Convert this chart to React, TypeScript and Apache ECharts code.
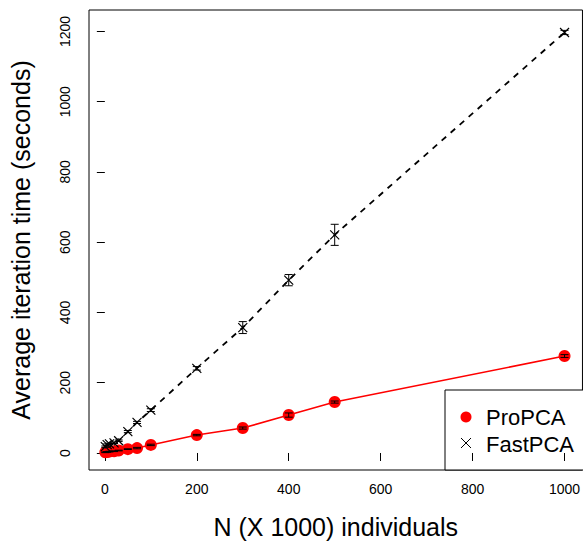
import React, { useEffect, useRef } from "react";
import * as echarts from "echarts";

// Sample sizes (thousands of individuals)
const nValues = [1, 5, 10, 20, 30, 50, 70, 100, 200, 300, 400, 500, 1000];
// Average iteration time (seconds) and error half-widths
const proPCA = [2, 3, 4, 5, 7, 11, 14, 23, 51, 71, 108, 145, 276];
const proErr = [1, 1, 1, 1, 1, 1, 2, 2, 2, 3, 6, 3, 4];
const fastPCA = [18, 24, 26, 29, 35, 61, 87, 122, 241, 357, 492, 621, 1197];
const fastErr = [2, 2, 2, 2, 2, 3, 3, 4, 5, 17, 16, 30, 6];

const xTicks = [0, 200, 400, 600, 800, 1000];
const yTicks = [0, 200, 400, 600, 800, 1000, 1200];

const FONT = '"Liberation Sans", Arial, Helvetica, sans-serif';

const errorBars = (vals: number[], errs: number[]) =>
  nValues.map((n, i) => [n, vals[i] - errs[i], vals[i] + errs[i]]);

const renderErrorBar = (params: any, api: any) => {
  const x = api.value(0);
  const lo = api.coord([x, api.value(1)]);
  const hi = api.coord([x, api.value(2)]);
  const cap = 4;
  const style = { stroke: "#000", lineWidth: 1 };
  return {
    type: "group",
    children: [
      { type: "line", shape: { x1: lo[0], y1: lo[1], x2: hi[0], y2: hi[1] }, style },
      { type: "line", shape: { x1: lo[0] - cap, y1: lo[1], x2: lo[0] + cap, y2: lo[1] }, style },
      { type: "line", shape: { x1: hi[0] - cap, y1: hi[1], x2: hi[0] + cap, y2: hi[1] }, style },
    ],
  };
};

const crossPath = "path://M0,0L10,10M10,0L0,10";
const plain = (v: number) => String(v);

export default function App() {
  const ref = useRef<HTMLDivElement>(null);

  useEffect(() => {
    if (!ref.current) return;
    const chart = echarts.init(ref.current, null, { renderer: "svg" });
    chart.setOption({
      animation: false,
      backgroundColor: "#fff",
      textStyle: { fontFamily: FONT },
      grid: {
        left: 86,
        top: 10,
        right: 0,
        bottom: 77,
        show: true,
        borderColor: "#000",
        borderWidth: 1,
        backgroundColor: "transparent",
      },
      xAxis: {
        type: "value",
        min: -34.5,
        max: 1039,
        splitLine: { show: false },
        axisLine: { show: false },
        axisTick: { show: true, length: 8, customValues: xTicks, lineStyle: { color: "#000" } },
        axisLabel: {
          customValues: xTicks,
          formatter: plain,
          margin: 12,
          fontSize: 14,
          color: "#000",
          fontFamily: FONT,
        },
        name: "N (X 1000) individuals",
        nameLocation: "middle",
        nameGap: 44,
        nameTextStyle: { fontSize: 25, color: "#000", fontFamily: FONT },
      },
      yAxis: {
        type: "value",
        min: -48.4,
        max: 1261,
        splitLine: { show: false },
        axisLine: { show: false },
        axisTick: { show: true, length: 8, customValues: yTicks, lineStyle: { color: "#000" } },
        axisLabel: {
          customValues: yTicks,
          formatter: plain,
          rotate: 90,
          margin: 17,
          fontSize: 14,
          color: "#000",
          fontFamily: FONT,
        },
        name: "Average iteration time (seconds)",
        nameLocation: "middle",
        nameGap: 56,
        nameTextStyle: { fontSize: 25, color: "#000", fontFamily: FONT },
      },
      series: [
        {
          name: "ProPCA",
          type: "line",
          data: nValues.map((n, i) => [n, proPCA[i]]),
          symbol: "circle",
          symbolSize: 12,
          showSymbol: true,
          lineStyle: { color: "#ff0000", width: 1.6 },
          itemStyle: { color: "#ff0000" },
          z: 2,
        },
        {
          name: "ProPCA error",
          type: "custom",
          data: errorBars(proPCA, proErr),
          renderItem: renderErrorBar,
          z: 3,
        },
        {
          name: "FastPCA",
          type: "line",
          data: nValues.map((n, i) => [n, fastPCA[i]]),
          symbol: crossPath,
          symbolSize: 9,
          showSymbol: true,
          lineStyle: { color: "#000", width: 1.8, type: [6, 6] },
          itemStyle: { color: "none", borderColor: "#000", borderWidth: 1.2 },
          z: 2,
        },
        {
          name: "FastPCA error",
          type: "custom",
          data: errorBars(fastPCA, fastErr),
          renderItem: renderErrorBar,
          z: 3,
        },
      ],
      graphic: [
        {
          type: "group",
          z: 100,
          children: [
            {
              type: "rect",
              shape: { x: 445, y: 390, width: 160, height: 80 },
              style: { fill: "#fff", stroke: "#000", lineWidth: 1 },
            },
            {
              type: "circle",
              shape: { cx: 466, cy: 417, r: 5.5 },
              style: { fill: "#ff0000" },
            },
            {
              type: "text",
              x: 486,
              y: 417,
              style: {
                text: "ProPCA",
                font: `22px ${FONT}`,
                fill: "#000",
                verticalAlign: "middle",
              },
            },
            {
              type: "line",
              shape: { x1: 461, y1: 438, x2: 471, y2: 448 },
              style: { stroke: "#000", lineWidth: 1 },
            },
            {
              type: "line",
              shape: { x1: 471, y1: 438, x2: 461, y2: 448 },
              style: { stroke: "#000", lineWidth: 1 },
            },
            {
              type: "text",
              x: 486,
              y: 444,
              style: {
                text: "FastPCA",
                font: `22px ${FONT}`,
                fill: "#000",
                verticalAlign: "middle",
              },
            },
          ],
        },
      ],
    });
    return () => chart.dispose();
  }, []);

  return (
    <div
      ref={ref}
      style={{ position: "fixed", left: 0, top: 0, width: 583, height: 547, background: "#fff" }}
    />
  );
}
